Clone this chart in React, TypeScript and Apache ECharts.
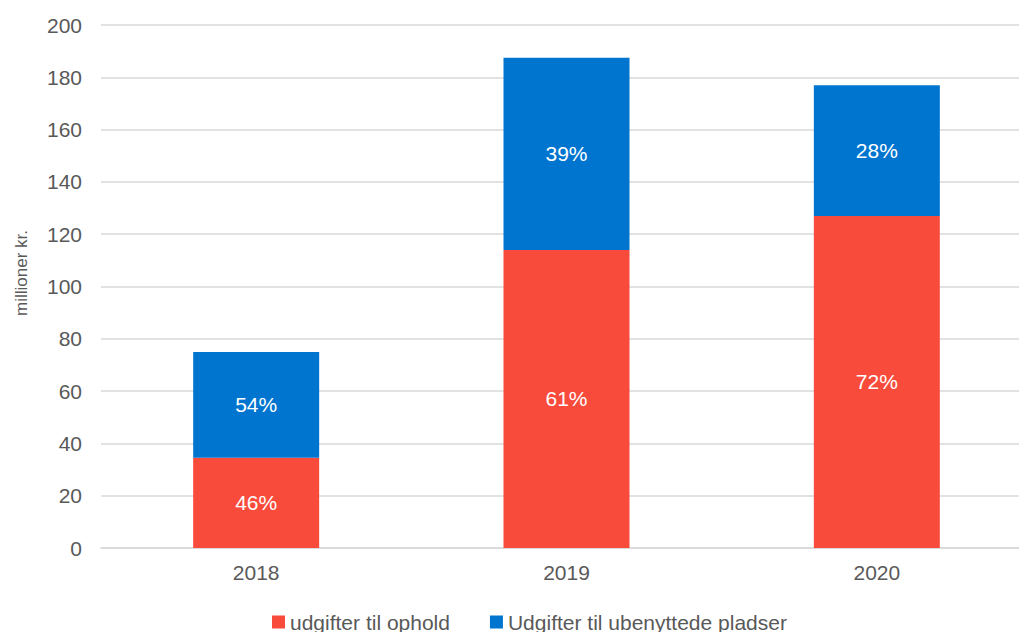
import React, { useEffect, useRef } from "react";
import * as echarts from "echarts";

const categories = ["2018", "2019", "2020"];
const opholdValues = [34.5, 114, 127];
const ubenyttedeValues = [40.5, 73.5, 50];
const opholdPct = ["46%", "61%", "72%"];
const ubenyttedePct = ["54%", "39%", "28%"];
const seriesNames = ["udgifter til ophold", "Udgifter til ubenyttede pladser"];
const yAxisTitle = "millioner kr.";

const FONT = "'Liberation Sans', Arial, sans-serif";
const TEXT = "#595959";

export default function App() {
  const ref = useRef<HTMLDivElement>(null);
  useEffect(() => {
    if (!ref.current) return;
    const chart = echarts.init(ref.current, undefined, { renderer: "svg" });
    chart.setOption({
      animation: false,
      textStyle: { fontFamily: FONT },
      grid: { left: 101, right: 8, top: 25, bottom: 84, containLabel: false },
      legend: {
        left: 267,
        top: 606,
        itemWidth: 13,
        itemHeight: 13,
        itemGap: 40,
        icon: "rect",
        textStyle: { fontFamily: FONT, fontSize: 21, color: TEXT, lineHeight: 22 },
        data: seriesNames,
      },
      graphic: [
        {
          type: "text",
          x: 21,
          y: 273,
          rotation: Math.PI / 2,
          style: {
            text: yAxisTitle,
            fontFamily: FONT,
            fontSize: 17,
            fill: TEXT,
            align: "center",
            verticalAlign: "middle",
          },
        },
      ],
      xAxis: {
        type: "category",
        data: categories,
        axisLine: { show: true, lineStyle: { color: "#d9d9d9", width: 1.5 } },
        axisTick: { show: false },
        axisLabel: { fontFamily: FONT, fontSize: 21, color: TEXT, margin: 14 },
      },
      yAxis: {
        type: "value",
        min: 0,
        max: 200,
        interval: 20,
        axisLine: { show: false },
        axisTick: { show: false },
        axisLabel: { fontFamily: FONT, fontSize: 21, color: TEXT, margin: 19 },
        splitLine: { lineStyle: { color: "#d9d9d9", width: 1.5 } },
      },
      series: [
        {
          name: seriesNames[0],
          type: "bar",
          stack: "total",
          barWidth: 126,
          data: opholdValues,
          itemStyle: { color: "#F84B3B" },
          label: {
            show: true,
            position: "inside",
            fontFamily: FONT,
            fontSize: 21,
            color: "#ffffff",
            formatter: (p: any) => opholdPct[p.dataIndex],
          },
        },
        {
          name: seriesNames[1],
          type: "bar",
          stack: "total",
          barWidth: 126,
          data: ubenyttedeValues,
          itemStyle: { color: "#0075CF" },
          label: {
            show: true,
            position: "inside",
            fontFamily: FONT,
            fontSize: 21,
            color: "#ffffff",
            formatter: (p: any) => ubenyttedePct[p.dataIndex],
          },
        },
      ],
    });
    return () => chart.dispose();
  }, []);
  return (
    <div
      ref={ref}
      style={{ position: "fixed", left: 0, top: 0, width: 1040, height: 632, background: "#fff" }}
    />
  );
}
